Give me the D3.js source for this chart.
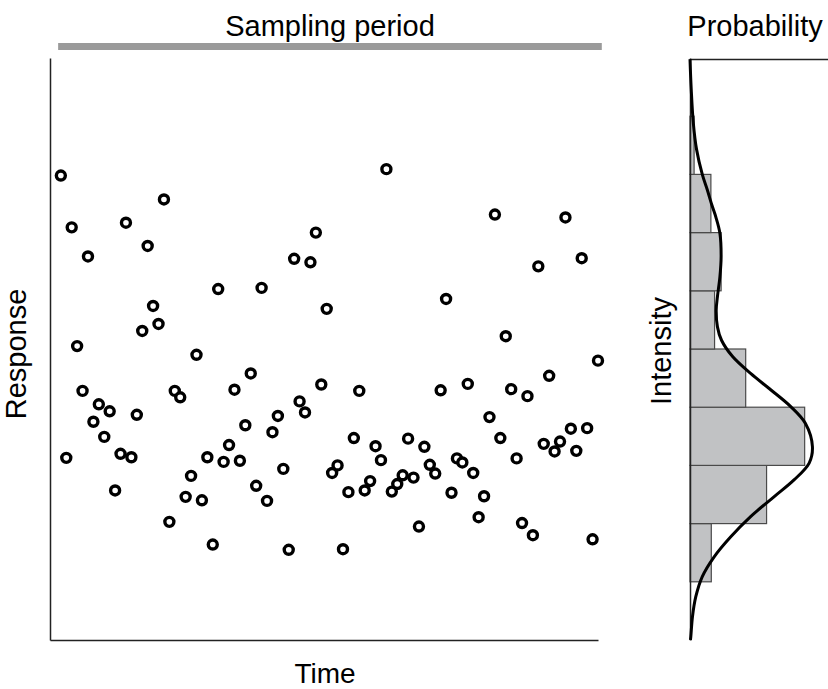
<!DOCTYPE html>
<html>
<head>
<meta charset="utf-8">
<script src="https://cdn.jsdelivr.net/npm/d3@7"></script>
<style>
  html, body { margin: 0; padding: 0; background: #fff; }
  svg { display: block; }
  text { font-family: "Liberation Sans", Arial, Helvetica, sans-serif; fill: #000; }
</style>
</head>
<body>
<svg id="chart" width="828" height="689"></svg>
<script>
// ---------- data ----------
// Response value at each time step (time = 1..100)
const responses = [
  79.8, 31.3, 70.9, 50.5, 42.8, 65.9, 37.5, 40.5, 34.9, 39.3,
  25.7, 32.0, 71.7, 31.4, 38.7, 53.1, 67.7, 57.4, 54.3, 75.7,
  20.3, 42.8, 41.7, 24.6, 28.2, 49.0, 24.0, 31.4, 16.4, 60.3,
  30.6, 33.5, 43.0, 30.8, 36.9, 45.8, 26.5, 60.5, 23.9, 35.7,
  38.5, 29.4, 15.5, 65.5, 41.0, 39.1, 64.9, 70.0, 43.9, 56.9,
  28.7, 30.0, 15.6, 25.4, 34.7, 42.8, 25.7, 27.3, 33.3, 30.9,
  80.9, 25.5, 26.8, 28.3, 34.6, 27.9, 19.5, 33.2, 30.1, 28.6,
  42.9, 58.6, 25.3, 31.2, 30.5, 44.0, 28.7, 21.1, 24.7, 38.3,
  73.1, 34.7, 52.2, 43.1, 31.2, 20.1, 41.9, 18.0, 64.2, 33.7,
  45.4, 32.4, 34.1, 72.6, 36.3, 32.5, 65.6, 36.4, 17.3, 48.0
];
const times = responses.map((_, i) => i + 1);

// Histogram of response (relative frequency per bin)
const binStarts = [10, 20, 30, 40, 50, 60, 70, 80];
const binEnds   = [20, 30, 40, 50, 60, 70, 80, 90];
const binFreq   = [0.052, 0.187, 0.280, 0.136, 0.060, 0.076, 0.051, 0.010];

// Fitted probability density curve (response level, density)
const curveLevel = [0, 0.6, 4.0, 7.4, 10.9, 14.3, 17.7, 21.2, 24.6, 27.5, 30.4, 33.2, 37.2,
  40.1, 43.0, 45.8, 48.7, 51.5, 53.8, 56.7, 59.0, 62.4, 65.9, 69.9, 72.7, 74.6, 77.4,
  80.0, 84.3, 88.9, 94.6, 99.8];
const curveDensity = [0.001, 0.002, 0.006, 0.014, 0.030, 0.059, 0.099, 0.148, 0.205, 0.254, 0.291, 0.299, 0.282,
  0.246, 0.197, 0.148, 0.104, 0.077, 0.067, 0.064, 0.067, 0.073, 0.076, 0.073, 0.063, 0.054, 0.042,
  0.030, 0.016, 0.008, 0.003, 0.000];

const samplingPeriod = [0.5, 100.7];

const titles = { top: "Sampling period", prob: "Probability", x: "Time", y: "Response", hist: "Intensity" };

// ---------- layout ----------
const svg = d3.select("#chart");
const plotLeft = 50, plotRight = 598, plotTop = 58, plotBottom = 640;
const histLeft = 690, histRight = 828;

const x = d3.scaleLinear().domain([-1, 100]).range([plotLeft, plotRight]);
const y = d3.scaleLinear().domain([0, 100]).range([plotBottom, plotTop]);
const hx = d3.scaleLinear().domain([0, 0.337]).range([histLeft, histRight]);

// ---------- main plot axes ----------
const axisColor = "#222";
svg.append("g")
  .attr("transform", `translate(${plotLeft},0)`)
  .call(d3.axisLeft(y).tickValues([]).tickSizeOuter(0))
  .call(g => g.select(".domain").attr("stroke", axisColor).attr("stroke-width", 1.5));
svg.append("g")
  .attr("transform", `translate(0,${plotBottom})`)
  .call(d3.axisBottom(x).tickValues([]).tickSizeOuter(0))
  .call(g => g.select(".domain").attr("stroke", axisColor).attr("stroke-width", 1.5));

// sampling period bar
svg.append("line")
  .attr("x1", x(samplingPeriod[0])).attr("x2", x(samplingPeriod[1]))
  .attr("y1", 46.5).attr("y2", 46.5)
  .attr("stroke", "#9a9a9a").attr("stroke-width", 7);

// points
svg.append("g").selectAll("circle")
  .data(responses)
  .join("circle")
  .attr("cx", (d, i) => x(times[i]))
  .attr("cy", d => y(d))
  .attr("r", 4.5)
  .attr("fill", "#fff")
  .attr("stroke", "#000")
  .attr("stroke-width", 3.4);

// ---------- histogram panel ----------
const bins = binStarts.map((s, i) => ({ s, e: binEnds[i], f: binFreq[i] }));
svg.append("g").selectAll("rect")
  .data(bins)
  .join("rect")
  .attr("x", hx(0))
  .attr("y", d => y(d.e))
  .attr("width", d => hx(d.f) - hx(0))
  .attr("height", d => y(d.s) - y(d.e))
  .attr("fill", "#c1c2c4")
  .attr("stroke", "#4a4a4a")
  .attr("stroke-width", 1.2);

svg.append("g")
  .attr("transform", `translate(${histLeft},0)`)
  .call(d3.axisLeft(y).tickValues([]).tickSizeOuter(0))
  .call(g => g.select(".domain").attr("stroke", axisColor).attr("stroke-width", 1.5));
svg.append("g")
  .attr("transform", `translate(0,${y(100) + 1})`)
  .call(d3.axisTop(hx).tickValues([]).tickSizeOuter(0))
  .call(g => g.select(".domain").attr("stroke", axisColor).attr("stroke-width", 1.5));

const curvePts = curveLevel.map((v, i) => [curveDensity[i], v]);
svg.append("path")
  .datum(curvePts)
  .attr("fill", "none")
  .attr("stroke", "#000")
  .attr("stroke-width", 3)
  .attr("d", d3.line().x(d => hx(d[0])).y(d => y(d[1])).curve(d3.curveCatmullRom));

// ---------- text ----------
const fs = 29;
svg.append("text").attr("x", 330).attr("y", 36).attr("text-anchor", "middle")
  .attr("font-size", fs).text(titles.top);
svg.append("text").attr("x", 755).attr("y", 36).attr("text-anchor", "middle")
  .attr("font-size", fs).text(titles.prob);
svg.append("text").attr("x", 325).attr("y", 683).attr("text-anchor", "middle")
  .attr("font-size", fs - 1).text(titles.x);
svg.append("text").attr("transform", "translate(26,354) rotate(-90)").attr("text-anchor", "middle")
  .attr("font-size", fs).text(titles.y);
svg.append("text").attr("transform", "translate(671,351) rotate(-90)").attr("text-anchor", "middle")
  .attr("font-size", fs).text(titles.hist);
</script>
</body>
</html>
